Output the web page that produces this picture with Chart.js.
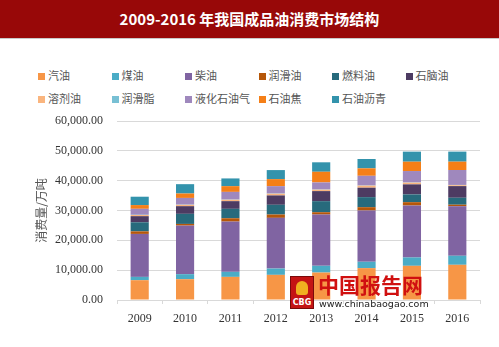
<!DOCTYPE html>
<html><head><meta charset="utf-8">
<script src="https://cdn.jsdelivr.net/npm/chart.js@4/dist/chart.umd.min.js"></script>
<style>
html,body{margin:0;padding:0;background:#fff;width:499px;height:347px;overflow:hidden;position:relative;font-family:"Noto Sans CJK SC",sans-serif}
#title{position:absolute;left:0;top:0;width:499px;height:38px;background:#980808;color:#fff;font:bold 15px "Noto Sans CJK SC","Liberation Serif",serif;text-align:center;line-height:38px;border-bottom:1px solid #c9c9c9}
#legend{position:absolute;left:38px;top:68px;width:450px}
.li{position:absolute;font-size:11px;color:#555;white-space:nowrap;line-height:14px}
.li span{display:inline-block;width:7px;height:7px;margin-right:3px;vertical-align:0px}
#wrap{position:absolute;left:0;top:40px;width:499px;height:307px}
#wm{position:absolute;left:318px;top:272px;color:#d01010;font:bold 21px "Noto Sans CJK SC",sans-serif;line-height:24px;z-index:5}
#wm2{position:absolute;left:319px;top:298px;color:#222;font:9.5px "DejaVu Sans",sans-serif;z-index:5}
#logo{position:absolute;left:290px;top:276px;width:22px;height:31px;background:#c41414;z-index:5;border:1px solid #7a0a0a}
#logo div{position:absolute;bottom:1px;left:0;width:22px;text-align:center;color:#fff;font:bold 8px "DejaVu Sans",sans-serif}
#logo i{position:absolute;left:5px;top:4px;width:12px;height:14px;background:#f0b020;border-radius:6px 6px 3px 3px}
</style></head>
<body>
<div id="title">2009-2016 年我国成品油消费市场结构</div>
<div id="legend"></div>
<div id="wrap"><canvas id="c" width="499" height="307"></canvas></div>
<div id="logo"><i></i><div>CBG</div></div>
<div id="wm">中国报告网</div>
<div id="wm2">www.chinabaogao.com</div>
<script>
const years = ['2009','2010','2011','2012','2013','2014','2015','2016'];
const gasoline = [6640, 6970, 7750, 8430, 9200, 10680, 11460, 11800];
const kerosene = [1110, 1690, 1690, 2120, 2260, 2130, 2800, 3030];
const diesel = [14400, 16280, 16850, 16980, 17190, 17190, 17420, 16610];
const lubeOil = [850, 560, 1110, 1120, 770, 1110, 1110, 500];
const fuelOil = [3050, 3380, 3160, 3260, 3710, 3370, 2600, 2330];
const naphtha = [2050, 2570, 2570, 3140, 3370, 3160, 3370, 3910];
const solvent = [400, 450, 470, 570, 470, 680, 570, 300];
const grease = [70, 75, 80, 80, 85, 85, 90, 90];
const lpg = [2000, 2240, 2560, 2460, 2360, 3230, 3810, 5000];
const petCoke = [1250, 1480, 1920, 2360, 3570, 2500, 3130, 2800];
const asphalt = [2800, 3130, 2590, 3030, 3170, 3130, 3370, 3370];
const yTicks = [0, 10000, 20000, 30000, 40000, 50000, 60000];

const series = [
  ['汽油', gasoline, '#F79646'],
  ['煤油', kerosene, '#4BACC6'],
  ['柴油', diesel, '#8064A2'],
  ['润滑油', lubeOil, '#B65708'],
  ['燃料油', fuelOil, '#276A7C'],
  ['石脑油', naphtha, '#4D3B62'],
  ['溶剂油', solvent, '#FAB57E'],
  ['润滑脂', grease, '#78C0D4'],
  ['液化石油气', lpg, '#9F88BD'],
  ['石油焦', petCoke, '#F57F17'],
  ['石油沥青', asphalt, '#3393AC']
];

const leg = document.getElementById('legend');
series.forEach((s, i) => {
  const d = document.createElement('div');
  d.className = 'li';
  d.style.left = (i % 6) * 73.5 + 'px';
  d.style.top = Math.floor(i / 6) * 23 + 'px';
  d.innerHTML = '<span style="background:' + s[2] + '"></span>' + s[0];
  leg.appendChild(d);
});

new Chart(document.getElementById('c'), {
  type: 'bar',
  data: {
    labels: years,
    datasets: series.map(s => ({label: s[0], data: s[1], backgroundColor: s[2], borderWidth: 0,
      categoryPercentage: 1.0, barPercentage: 0.4}))
  },
  options: {
    responsive: false, animation: false,
    layout: {padding: {left: 30, right: 19, top: 81, bottom: 13}},
    plugins: {legend: {display: false}, tooltip: {enabled: false}},
    scales: {
      x: {
        stacked: true,
        grid: {drawOnChartArea: false, drawTicks: true, tickLength: 4, color: '#d9d9d9'},
        border: {color: '#d9d9d9'},
        ticks: {color: '#333', font: {family: 'Liberation Serif', size: 12}, padding: 8},
        afterFit: s => { s.height = 34; }
      },
      y: {
        stacked: true, min: 0, max: 60000,
        afterBuildTicks: s => { s.ticks = yTicks.map(v => ({value: v})); },
        grid: {color: '#d9d9d9', drawTicks: false},
        border: {display: false},
        ticks: {color: '#333', font: {family: 'Liberation Serif', size: 12}, padding: 14,
          callback: v => Number(v).toLocaleString('en-US', {minimumFractionDigits: 2, maximumFractionDigits: 2})},
        title: {display: true, text: '消费量/万吨', color: '#555', font: {family: 'Noto Sans CJK SC', size: 12}, padding: {top: 4, bottom: 0}},
        afterFit: s => { s.width = 87; }
      }
    }
  }
});
</script>
</body></html>
